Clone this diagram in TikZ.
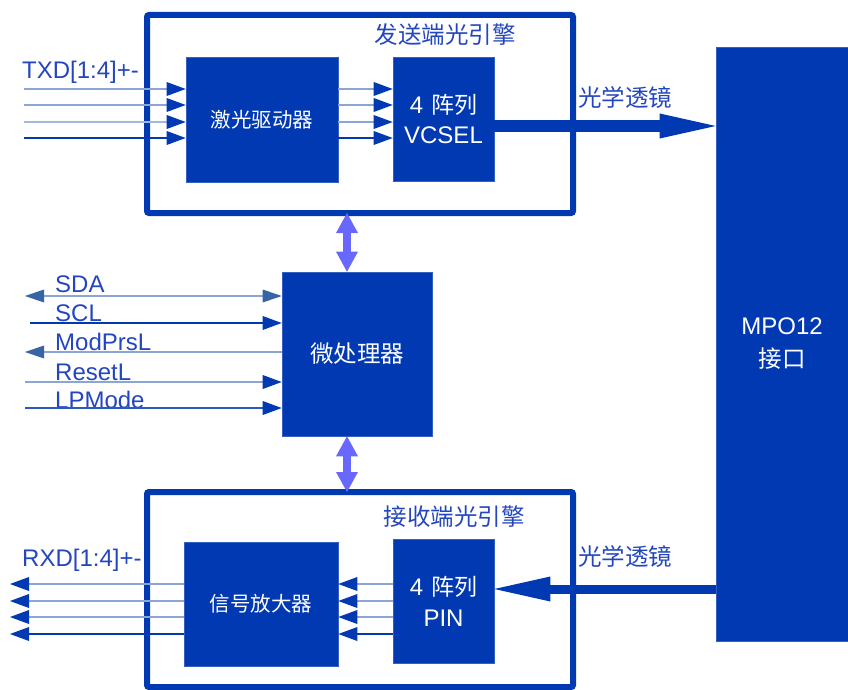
\documentclass[tikz,border=0pt]{standalone}
\usepackage{fontspec}
\setmainfont{Liberation Sans}
\newfontfamily\cjk{Noto Sans CJK SC}
\usetikzlibrary{arrows.meta}
\definecolor{dblue}{RGB}{0,57,178}
\definecolor{lblue}{RGB}{140,165,215}
\definecolor{sblue}{RGB}{55,100,165}
\definecolor{tblue}{RGB}{35,70,190}
\definecolor{purp}{RGB}{104,104,255}
\begin{document}
\begin{tikzpicture}[x=1pt,y=-1pt,
  outerbox/.style={draw=dblue, line width=6pt, rounded corners=2pt, outer sep=0pt, inner sep=0pt},
  block/.style={fill=dblue, draw=dblue!80!white, line width=0.6pt, text=white, align=center, inner sep=0pt},
  lbl/.style={text=tblue, font=\fontsize{24}{28}\selectfont, anchor=west, inner sep=0pt},
  ttl/.style={text=tblue, font=\cjk\fontsize{23.5}{28}\selectfont, inner sep=0pt},
  sig/.style={line width=1.6pt},
  tipd/.style={-{Triangle[length=19pt,width=14pt,line width=0pt,color=dblue]}},
  tips/.style={-{Triangle[length=19pt,width=13pt,line width=0pt,color=sblue]}},
  dtips/.style={{Triangle[length=19pt,width=13pt,line width=0pt,color=sblue]}-{Triangle[length=19pt,width=13pt,line width=0pt,color=sblue]}},
  bigarrow/.style={dblue, -{Triangle[length=56pt,width=25pt,line width=0pt]}},
  purparrow/.style={purp, line width=8pt, {Triangle[length=20pt,width=22pt,line width=0pt]}-{Triangle[length=20pt,width=22pt,line width=0pt]}}
]
\useasboundingbox (0,0) rectangle (848,690);

% outer engine boxes
\node[outerbox, minimum width=426pt, minimum height=198pt] (tx) at (360,114) {};
\node[outerbox, minimum width=426pt, minimum height=195pt] (rx) at (360,589.5) {};
\node[ttl] (txt) at (445,35) {发送端光引擎};
\node[ttl] (rxt) at (454,517) {接收端光引擎};

% blocks
\node[block, minimum width=152pt, minimum height=125pt, font=\cjk\fontsize{20.5}{24}\selectfont] (drv) at (262,120)
  {激光驱动器};
\node[block, minimum width=101pt, minimum height=124pt, font=\fontsize{24}{30}\selectfont] (vcsel) at (443.5,119)
  {4\hspace{8pt}{\cjk\fontsize{23}{30}\selectfont 阵列}\\VCSEL};
\node[block, minimum width=154pt, minimum height=124pt, font=\cjk\fontsize{20.5}{24}\selectfont] (amp) at (261,604)
  {信号放大器};
\node[block, minimum width=101pt, minimum height=124pt, font=\fontsize{24}{31}\selectfont] (pin) at (443.5,601)
  {4\hspace{8pt}{\cjk\fontsize{23}{31}\selectfont 阵列}\\PIN};
\node[block, minimum width=150pt, minimum height=164pt, font=\cjk\fontsize{23.5}{28}\selectfont] (micro) at (357,354)
  {微处理器};
\node[block, minimum width=132pt, minimum height=594pt, font=\fontsize{24}{33}\selectfont] (mpo) at (782,344)
  {MPO12\\{\cjk\fontsize{23.5}{33}\selectfont 接口}};

% labels
\node[lbl] (txd) at (22,72) {TXD[1:4]+-};
\node[lbl] (rxd) at (22,560) {RXD[1:4]+-};
\node[lbl, font=\cjk\fontsize{23.5}{28}\selectfont] (lens1) at (578,97) {光学透镜};
\node[lbl, font=\cjk\fontsize{23.5}{28}\selectfont] (lens2) at (578,556) {光学透镜};
\node[lbl] (sdal) at (55,284) {SDA};
\node[lbl] (scll) at (55,313) {SCL};
\node[lbl] (modl) at (55,342) {ModPrsL};
\node[lbl] (resl) at (55,372) {ResetL};
\node[lbl] (lpml) at (55,400) {LPMode};

% TX input lines
\coordinate (i1) at (24,89);
\coordinate (i2) at (24,105);
\coordinate (i3) at (24,122);
\coordinate (i4) at (24,138);
\draw[sig, lblue, tipd] (i1) -- (drv.west |- i1);
\draw[sig, lblue, tipd] (i2) -- (drv.west |- i2);
\draw[sig, lblue!80!white, tipd] (i3) -- (drv.west |- i3);
\draw[sig, dblue, tipd] (i4) -- (drv.west |- i4);
\draw[sig, lblue, tipd] (drv.east |- i1) -- (vcsel.west |- i1);
\draw[sig, lblue, tipd] (drv.east |- i2) -- (vcsel.west |- i2);
\draw[sig, lblue, tipd] (drv.east |- i3) -- (vcsel.west |- i3);
\draw[sig, dblue, tipd] (drv.east |- i4) -- (vcsel.west |- i4);

% optical arrows
\coordinate (oa) at (600,126);
\coordinate (ob) at (600,589);
\draw[bigarrow, line width=12pt] (vcsel.east |- oa) -- (mpo.west |- oa);
\draw[bigarrow, line width=9pt] (mpo.west |- ob) -- (pin.east |- ob);

% RX output lines
\coordinate (o1) at (10,584);
\coordinate (o2) at (10,601);
\coordinate (o3) at (10,617);
\coordinate (o4) at (10,634);
\draw[sig, lblue, tipd] (pin.west |- o1) -- (amp.east |- o1);
\draw[sig, lblue, tipd] (pin.west |- o2) -- (amp.east |- o2);
\draw[sig, lblue, tipd] (pin.west |- o3) -- (amp.east |- o3);
\draw[sig, dblue, tipd] (pin.west |- o4) -- (amp.east |- o4);
\draw[sig, lblue, tipd] (amp.west |- o1) -- (o1);
\draw[sig, lblue, tipd] (amp.west |- o2) -- (o2);
\draw[sig, lblue, tipd] (amp.west |- o3) -- (o3);
\draw[sig, dblue, tipd] (amp.west |- o4) -- (o4);

% microprocessor bus arrows
\coordinate (da) at (347,0);
\draw[purparrow] (tx.south -| da) -- (micro.north -| da);
\draw[purparrow] (micro.south -| da) -- (rx.north -| da);

% management signals
\coordinate (sda) at (25,296);
\coordinate (scl) at (30,323);
\coordinate (mod) at (25,352);
\coordinate (res) at (25,382);
\coordinate (lpm) at (25,408);
\draw[sig, lblue, dtips] (sda) -- (micro.west |- sda);
\draw[sig, dblue, tipd] (scl) -- (micro.west |- scl);
\draw[sig, lblue, tips] (micro.west |- mod) -- (mod);
\draw[sig, lblue, tipd] (res) -- (micro.west |- res);
\draw[sig, dblue!70!lblue, tipd] (lpm) -- (micro.west |- lpm);
\end{tikzpicture}
\end{document}
